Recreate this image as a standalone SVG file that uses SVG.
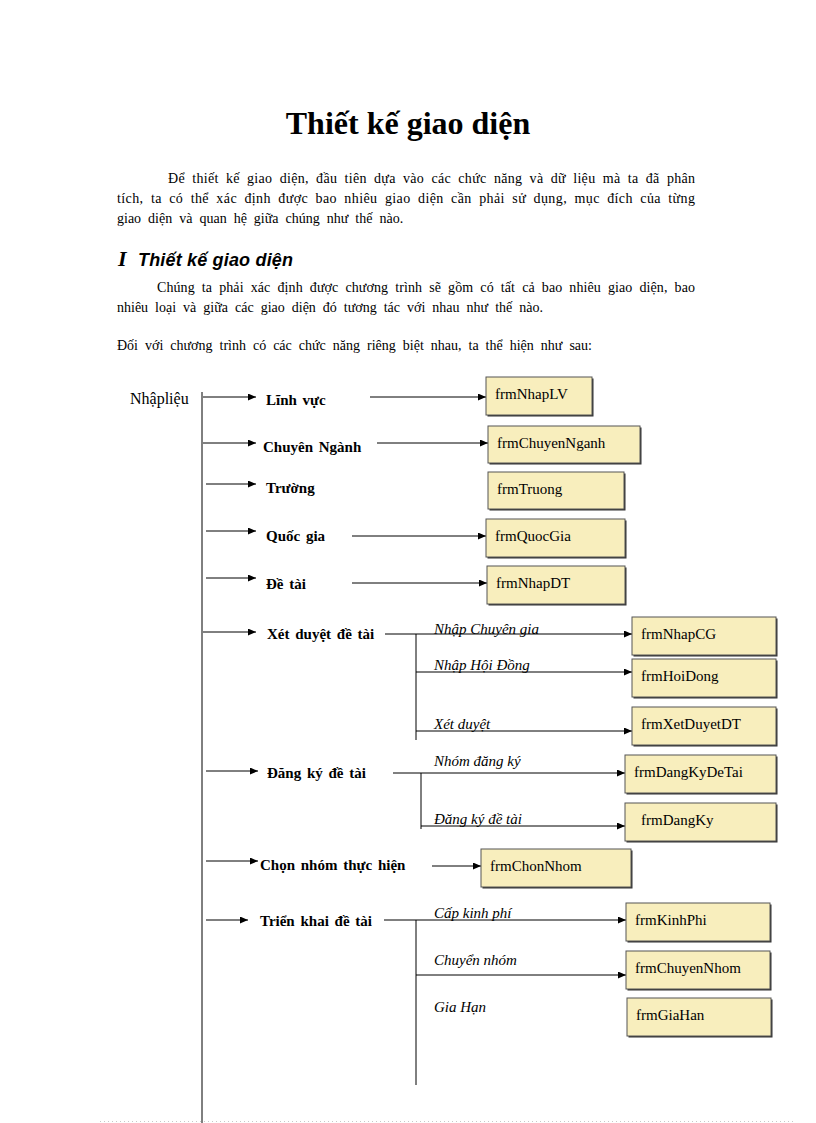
<svg xmlns="http://www.w3.org/2000/svg" width="816" height="1123" viewBox="0 0 816 1123">
<defs>
<marker id="ah" markerWidth="8" markerHeight="7" refX="8" refY="3.5" orient="auto" markerUnits="userSpaceOnUse">
<path d="M0,0 L8,3.5 L0,7 z" fill="#000"/>
</marker>
<style>
.t{font-family:"Liberation Serif","Times New Roman",serif;fill:#000}
.body{font-size:14px;word-spacing:3.5px}
.title{font-size:32px;font-weight:bold}
.h2{font-family:"Liberation Sans",Arial,sans-serif;font-size:18px;font-weight:bold;font-style:italic}
.lb{font-size:15px;font-weight:bold;word-spacing:2px}
.li{font-size:15px;font-style:italic}
.bx{font-size:15px}
.box{fill:#f8eebd;stroke:#555;stroke-width:1}
.sh{fill:#333}
.ln{stroke:#000;stroke-width:1;fill:none}
.ar{stroke:#000;stroke-width:1;fill:none;marker-end:url(#ah)}
</style>
</defs>
<rect width="816" height="1123" fill="#fff"/>

<text class="t title" x="408" y="134" text-anchor="middle">Thiết kế giao diện</text>
<text class="t body" x="168" y="183" textLength="527" lengthAdjust="spacing">Để thiết kế giao diện, đầu tiên dựa vào các chức năng và dữ liệu mà ta đã phân</text>
<text class="t body" x="117" y="203" textLength="578" lengthAdjust="spacing">tích, ta có thể xác định được bao nhiêu giao diện cần phải sử dụng, mục đích của từng</text>
<text class="t body" x="117" y="223">giao diện và quan hệ giữa chúng như thế nào.</text>
<text class="t" x="118" y="266" style="font-size:22px;font-style:italic;font-weight:bold">I</text>
<text class="h2" x="138" y="266" textLength="155" lengthAdjust="spacing">Thiết kế giao diện</text>
<text class="t body" x="157" y="292" textLength="538" lengthAdjust="spacing">Chúng ta phải xác định được chương trình sẽ gồm có tất cả bao nhiêu giao diện, bao</text>
<text class="t body" x="117" y="312">nhiêu loại và giữa các giao diện đó tương tác với nhau như thế nào.</text>
<text class="t body" x="117" y="350">Đối với chương trình có các chức năng riêng biệt nhau, ta thể hiện như sau:</text>

<g id="connectors">
<line class="ln" x1="202" y1="392" x2="202" y2="1123"/>
<line class="ar" x1="203" y1="397" x2="256" y2="397"/>
<line class="ar" x1="203" y1="443" x2="256" y2="443"/>
<line class="ar" x1="206" y1="484" x2="256" y2="484"/>
<line class="ar" x1="206" y1="531" x2="256" y2="531"/>
<line class="ar" x1="206" y1="578" x2="256" y2="578"/>
<line class="ar" x1="203" y1="632" x2="256" y2="632"/>
<line class="ar" x1="206" y1="771" x2="258" y2="771"/>
<line class="ar" x1="206" y1="861" x2="258" y2="861"/>
<line class="ar" x1="206" y1="920" x2="248" y2="920"/>

<line class="ar" x1="370" y1="397" x2="486" y2="397"/>
<line class="ar" x1="377" y1="443" x2="488" y2="443"/>
<line class="ar" x1="352" y1="536" x2="486" y2="536"/>
<line class="ar" x1="352" y1="583" x2="487" y2="583"/>

<line class="ar" x1="385" y1="634" x2="632" y2="634"/>
<line class="ln" x1="416" y1="634" x2="416" y2="740"/>
<line class="ar" x1="416" y1="672" x2="632" y2="672"/>
<line class="ar" x1="416" y1="731" x2="632" y2="731"/>

<line class="ar" x1="393" y1="773" x2="625" y2="773"/>
<line class="ln" x1="421" y1="773" x2="421" y2="829"/>
<line class="ar" x1="421" y1="826" x2="625" y2="826"/>

<line class="ar" x1="432" y1="866" x2="481" y2="866"/>

<line class="ar" x1="384" y1="920" x2="626" y2="920"/>
<line class="ln" x1="416" y1="920" x2="416" y2="1085"/>
<line class="ar" x1="416" y1="975" x2="626" y2="975"/>

<line x1="100" y1="1121.5" x2="795" y2="1121.5" stroke="#c8c8c8" stroke-width="1" stroke-dasharray="1,3"/>
</g>

<g id="n-nhaplieu"><text class="t" x="130" y="404" style="font-size:16px">Nhậpliệu</text></g>
<g id="n-linhvuc"><text class="t lb" x="266" y="405">Lĩnh vực</text></g>
<g id="n-chuyennganh"><text class="t lb" x="263" y="452">Chuyên Ngành</text></g>
<g id="n-truong"><text class="t lb" x="266" y="493">Trường</text></g>
<g id="n-quocgia"><text class="t lb" x="266" y="541">Quốc gia</text></g>
<g id="n-detai"><text class="t lb" x="266" y="589">Đề tài</text></g>
<g id="n-xetduyet"><text class="t lb" x="267" y="639">Xét duyệt đề tài</text></g>
<g id="n-dangky"><text class="t lb" x="267" y="778">Đăng ký đề tài</text></g>
<g id="n-chonnhom"><text class="t lb" x="260" y="870">Chọn nhóm thực hiện</text></g>
<g id="n-trienkhai"><text class="t lb" x="260" y="926">Triển khai đề tài</text></g>

<g id="l-nhapcg"><text class="t li" x="434" y="634">Nhập Chuyên gia</text></g>
<g id="l-nhaphd"><text class="t li" x="434" y="670">Nhập Hội Đồng</text></g>
<g id="l-xetduyet"><text class="t li" x="434" y="729">Xét duyệt</text></g>
<g id="l-nhomdk"><text class="t li" x="434" y="766">Nhóm đăng ký</text></g>
<g id="l-dkdt"><text class="t li" x="434" y="824">Đăng ký đề tài</text></g>
<g id="l-capkp"><text class="t li" x="434" y="918">Cấp kinh phí</text></g>
<g id="l-chuyennhom"><text class="t li" x="434" y="965">Chuyển nhóm</text></g>
<g id="l-giahan"><text class="t li" x="434" y="1012">Gia Hạn</text></g>

<g id="b-frmNhapLV"><rect class="sh" x="487.5" y="378.5" width="106" height="38"/><rect class="box" x="486" y="377" width="106" height="38"/><text class="t bx" x="495" y="399">frmNhapLV</text></g>
<g id="b-frmChuyenNganh"><rect class="sh" x="489.5" y="427.5" width="152" height="37"/><rect class="box" x="488" y="426" width="152" height="37"/><text class="t bx" x="497" y="448">frmChuyenNganh</text></g>
<g id="b-frmTruong"><rect class="sh" x="489.5" y="473.5" width="136" height="37"/><rect class="box" x="488" y="472" width="136" height="37"/><text class="t bx" x="497" y="494">frmTruong</text></g>
<g id="b-frmQuocGia"><rect class="sh" x="487.5" y="520.5" width="139" height="38"/><rect class="box" x="486" y="519" width="139" height="38"/><text class="t bx" x="495" y="541">frmQuocGia</text></g>
<g id="b-frmNhapDT"><rect class="sh" x="488.5" y="567.5" width="138" height="38"/><rect class="box" x="487" y="566" width="138" height="38"/><text class="t bx" x="496" y="588">frmNhapDT</text></g>
<g id="b-frmNhapCG"><rect class="sh" x="633.5" y="618.5" width="144" height="38"/><rect class="box" x="632" y="617" width="144" height="38"/><text class="t bx" x="641" y="639">frmNhapCG</text></g>
<g id="b-frmHoiDong"><rect class="sh" x="633.5" y="660.5" width="144" height="38"/><rect class="box" x="632" y="659" width="144" height="38"/><text class="t bx" x="641" y="681">frmHoiDong</text></g>
<g id="b-frmXetDuyetDT"><rect class="sh" x="633.5" y="708.5" width="144" height="38"/><rect class="box" x="632" y="707" width="144" height="38"/><text class="t bx" x="641" y="729">frmXetDuyetDT</text></g>
<g id="b-frmDangKyDeTai"><rect class="sh" x="626.5" y="756.5" width="151" height="38"/><rect class="box" x="625" y="755" width="151" height="38"/><text class="t bx" x="634" y="777">frmDangKyDeTai</text></g>
<g id="b-frmDangKy"><rect class="sh" x="626.5" y="804.5" width="151" height="38"/><rect class="box" x="625" y="803" width="151" height="38"/><text class="t bx" x="641" y="825">frmDangKy</text></g>
<g id="b-frmChonNhom"><rect class="sh" x="482.5" y="850.5" width="150" height="38"/><rect class="box" x="481" y="849" width="150" height="38"/><text class="t bx" x="490" y="871">frmChonNhom</text></g>
<g id="b-frmKinhPhi"><rect class="sh" x="627.5" y="904.5" width="144" height="38"/><rect class="box" x="626" y="903" width="144" height="38"/><text class="t bx" x="635" y="925">frmKinhPhi</text></g>
<g id="b-frmChuyenNhom"><rect class="sh" x="627.5" y="952.5" width="144" height="38"/><rect class="box" x="626" y="951" width="144" height="38"/><text class="t bx" x="635" y="973">frmChuyenNhom</text></g>
<g id="b-frmGiaHan"><rect class="sh" x="628.5" y="999.5" width="144" height="38"/><rect class="box" x="627" y="998" width="144" height="38"/><text class="t bx" x="636" y="1020">frmGiaHan</text></g>
</svg>
